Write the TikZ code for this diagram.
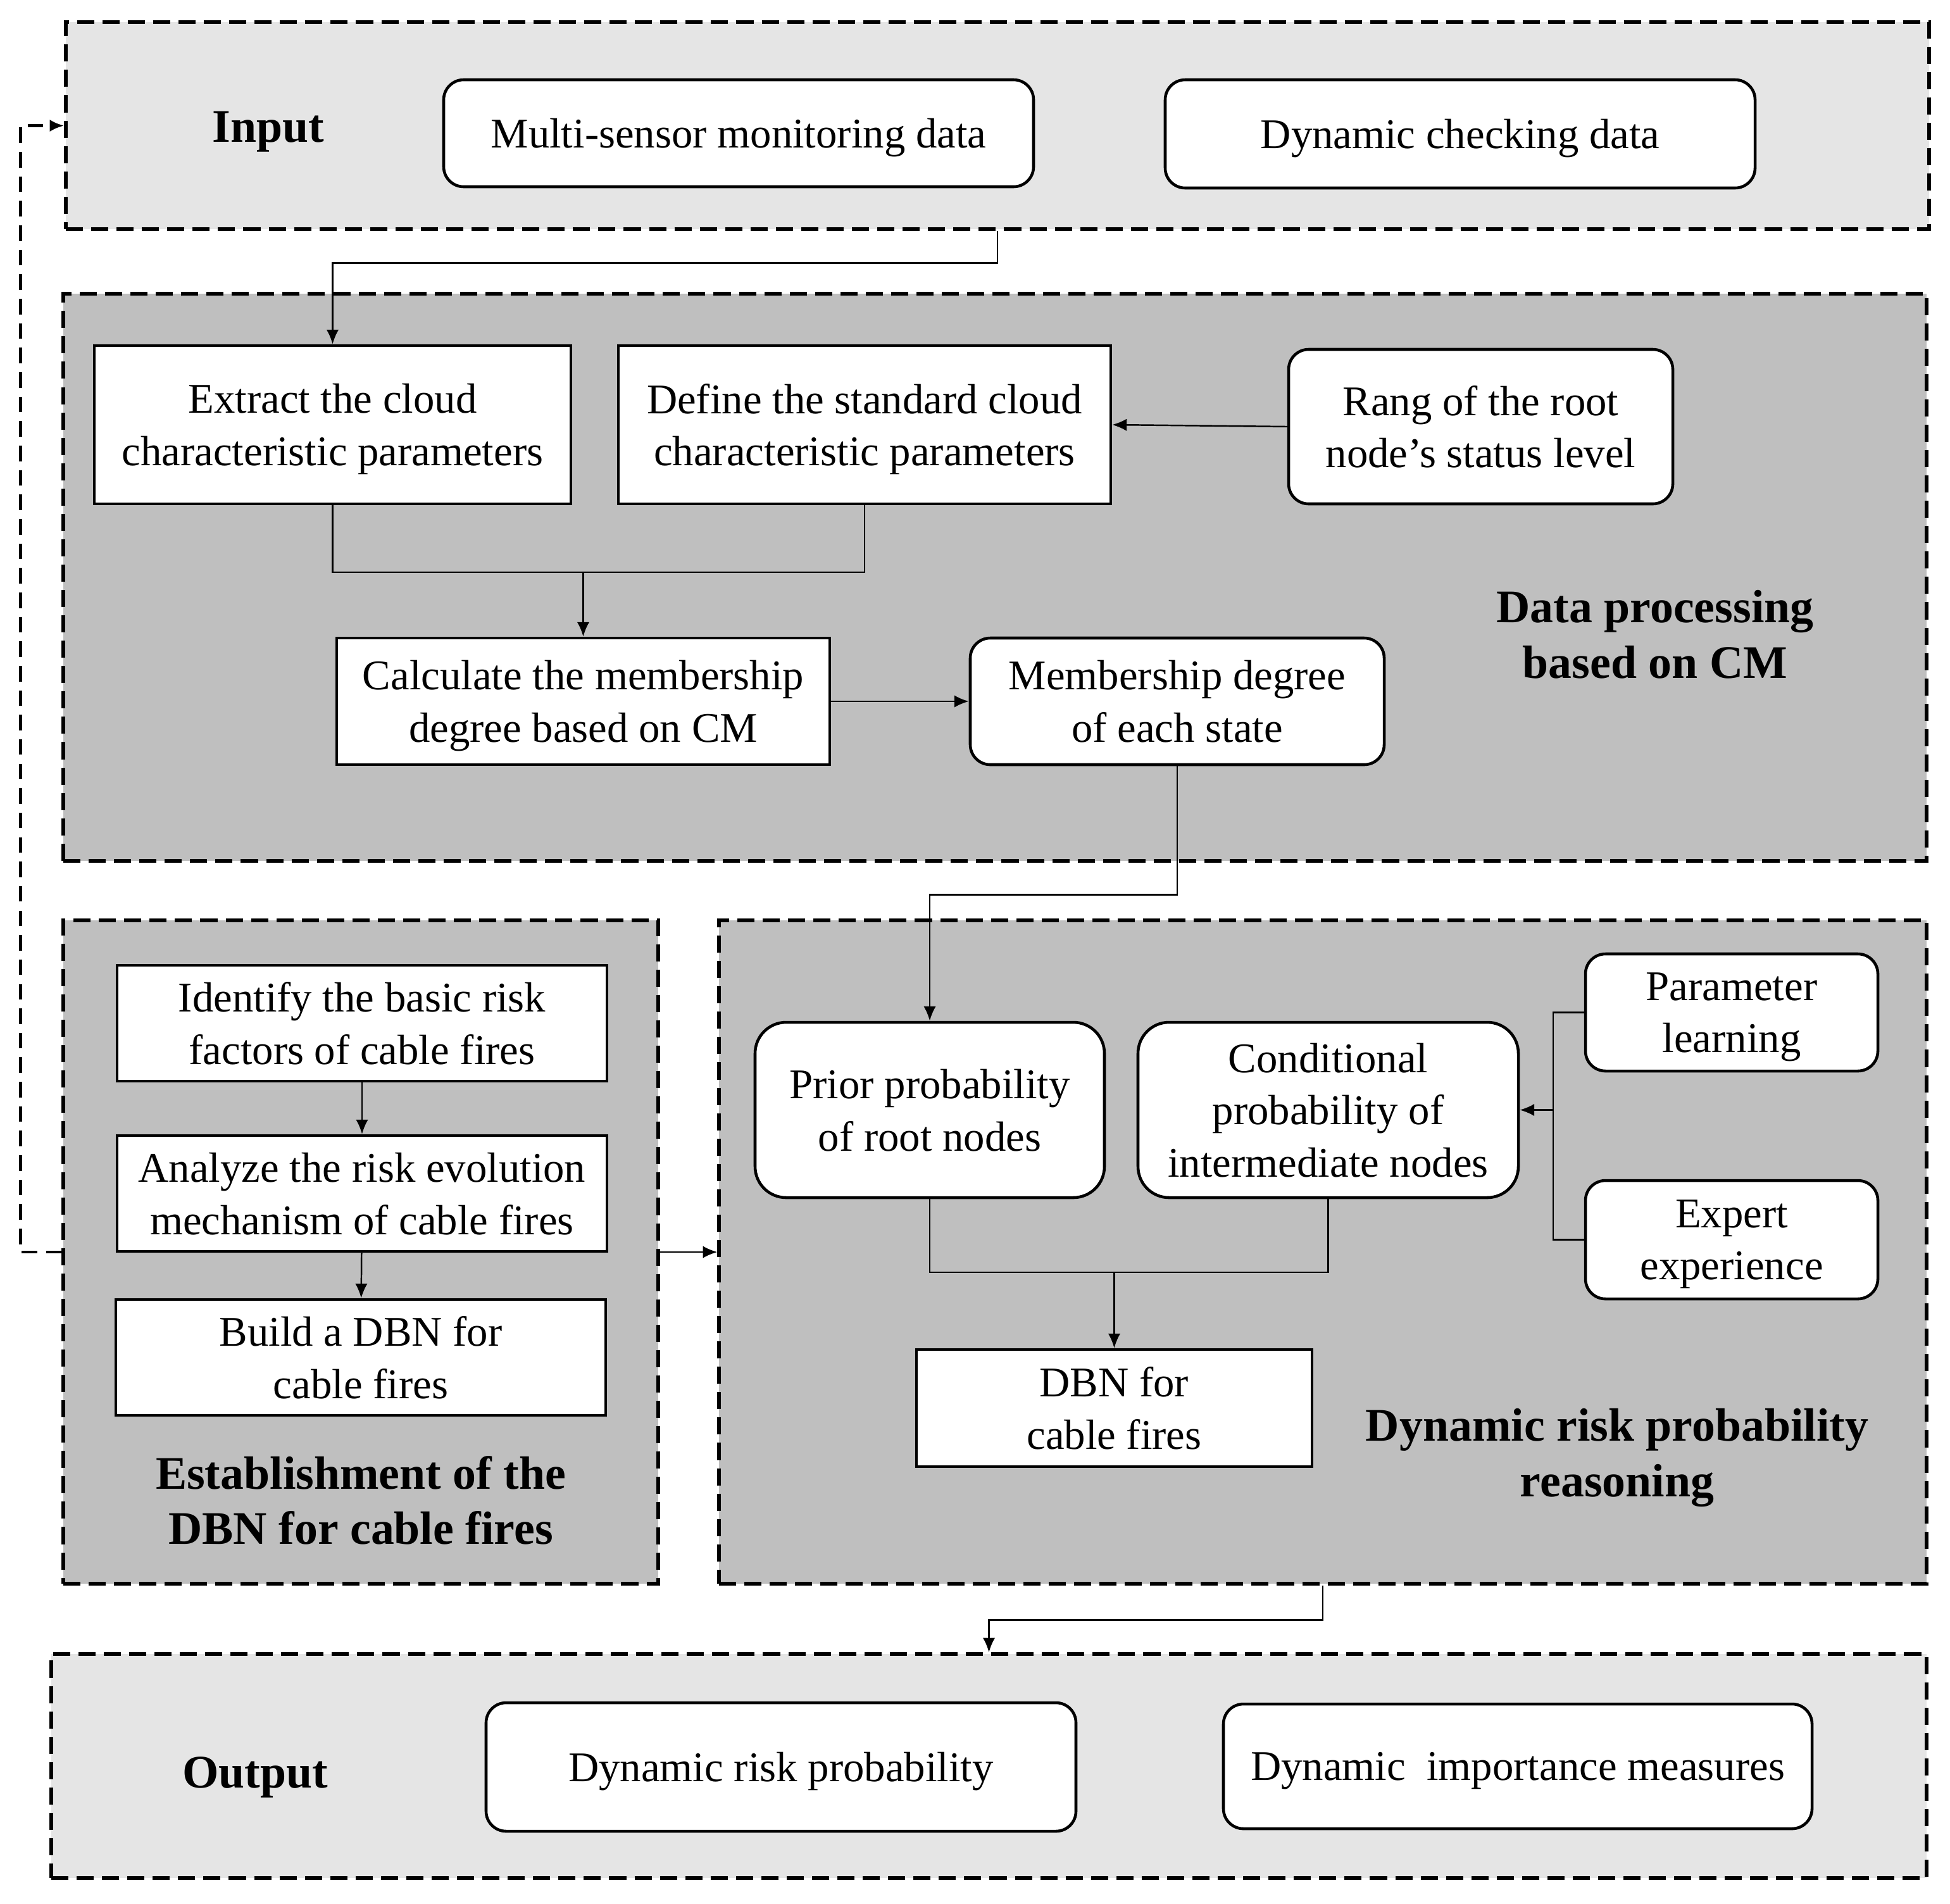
\documentclass[tikz,border=0pt]{standalone}
\usepackage{fontspec}
\setmainfont{Liberation Serif}
\usetikzlibrary{arrows.meta, positioning, calc}

\begin{document}
\begin{tikzpicture}[x=1cm, y=-1cm,
  panel/.style={draw, dash pattern=on 7.7pt off 3.7pt, line width=1.5pt, inner sep=0pt},
  inpanel/.style={panel, fill=black!10},
  procpanel/.style={panel, fill=black!25},
  sbox/.style={draw, fill=white, line width=1.3pt, inner sep=2pt, text depth=0pt,
               font=\fontsize{19}{23.5}\selectfont, align=center},
  rbox/.style={sbox, rounded corners=9pt},
  ttl/.style={font=\fontsize{21}{25}\selectfont\bfseries, align=center, text depth=0pt},
  arr/.style={-{Latex[length=6.5pt, width=5.5pt]}, line width=0.7pt},
  fb/.style={-{Latex[length=6.5pt, width=5.5pt]}, dash pattern=on 7pt off 4pt, line width=1.3pt}]
\useasboundingbox (0,0) rectangle (30.81,30.07);

% panels
\node[inpanel, minimum width=29.44cm, minimum height=3.27cm] (pin) at (15.76,1.985) {};
\node[procpanel, minimum width=29.44cm, minimum height=8.96cm] (pdata) at (15.72,9.12) {};
\node[procpanel, minimum width=9.40cm, minimum height=10.48cm] (pest) at (5.70,19.78) {};
\node[procpanel, minimum width=19.08cm, minimum height=10.48cm] (pdyn) at (20.90,19.78) {};
\node[inpanel, minimum width=29.63cm, minimum height=3.54cm] (pout) at (15.625,27.90) {};

% input
\node[ttl] (tin) at (4.24,2.00) {Input};
\node[rbox, minimum width=9.32cm, minimum height=1.69cm] (msd) at (11.67,2.105) {Multi-sensor monitoring data};
\node[rbox, minimum width=9.32cm, minimum height=1.71cm] (dcd) at (23.07,2.115) {Dynamic checking data};

% data processing
\node[sbox, minimum width=7.53cm, minimum height=2.50cm] (ext) at (5.255,6.71) {Extract the cloud\\characteristic parameters};
\node[sbox, minimum width=7.78cm, minimum height=2.50cm] (def) at (13.66,6.71) {Define the standard cloud\\characteristic parameters};
\node[rbox, minimum width=6.07cm, minimum height=2.44cm] (rang) at (23.395,6.74) {Rang of the root\\node’s status level};
\node[sbox, minimum width=7.79cm, minimum height=2.00cm] (calc) at (9.215,11.08) {Calculate the membership\\degree based on CM};
\node[rbox, minimum width=6.54cm, minimum height=2.00cm] (memb) at (18.60,11.08) {Membership degree\\of each state};
\node[ttl] (tdata) at (26.15,10.02) {Data processing\\based on CM};

% establishment
\node[sbox, minimum width=7.74cm, minimum height=1.83cm] (idf) at (5.72,16.165) {Identify the basic risk\\factors of cable fires};
\node[sbox, minimum width=7.74cm, minimum height=1.83cm] (ana) at (5.72,18.855) {Analyze the risk evolution\\mechanism of cable fires};
\node[sbox, minimum width=7.74cm, minimum height=1.83cm] (bld) at (5.70,21.445) {Build a DBN for\\cable fires};
\node[ttl] (test) at (5.70,23.70) {Establishment of the\\DBN for cable fires};

% reasoning
\node[rbox, rounded corners=14pt, minimum width=5.52cm, minimum height=2.77cm] (prior) at (14.69,17.535) {Prior probability\\of root nodes};
\node[rbox, rounded corners=14pt, minimum width=6.01cm, minimum height=2.77cm] (cond) at (20.985,17.535) {Conditional\\probability of\\intermediate nodes};
\node[rbox, minimum width=4.62cm, minimum height=1.85cm] (par) at (27.36,15.995) {Parameter\\learning};
\node[rbox, minimum width=4.62cm, minimum height=1.87cm] (exp) at (27.36,19.585) {Expert\\experience};
\node[sbox, minimum width=6.25cm, minimum height=1.85cm] (dbn) at (17.605,22.245) {DBN for\\cable fires};
\node[ttl] (tdyn) at (25.55,22.95) {Dynamic risk probability\\reasoning};

% output
\node[ttl] (tout) at (4.03,28.00) {Output};
\node[rbox, minimum width=9.32cm, minimum height=2.03cm] (drp) at (12.34,27.915) {Dynamic risk probability};
\node[rbox, minimum width=9.30cm, minimum height=1.97cm] (dim) at (23.98,27.905) {Dynamic~ importance measures};

% connectors
\draw[arr] (pin.south) -- ++(0,0.51) -| (ext.north);
\coordinate (m1) at (9.215,9.04);
\draw[line width=0.7pt] (ext.south) |- (m1) -| (def.south);
\draw[arr] (m1) -- (calc);
\draw[arr] (rang.west) -- (def.east);
\draw[arr] (calc) -- (memb);
\draw[arr] (memb.south) -- ++(0,2.03) -| (prior.north);
\draw[arr] (idf) -- (ana);
\draw[arr] (ana) -- (bld);
\coordinate (m2) at (17.605,20.10);
\draw[line width=0.7pt] (prior.south) |- (m2) -| (cond.south);
\draw[arr] (m2) -- (dbn);
\coordinate (m3) at (24.54,17.535);
\draw[line width=0.7pt] (par.west) -| (m3);
\draw[line width=0.7pt] (exp.west) -| (m3);
\draw[arr] (m3) -- (cond.east);
\draw[arr] (pest) -- (pdyn);
\draw[fb] (pest.west) -- ++(-0.65,0) |- (pin.west);
\draw[arr] (pdyn.south) -- ++(0,0.55) -| (pout.north);
\end{tikzpicture}
\end{document}
